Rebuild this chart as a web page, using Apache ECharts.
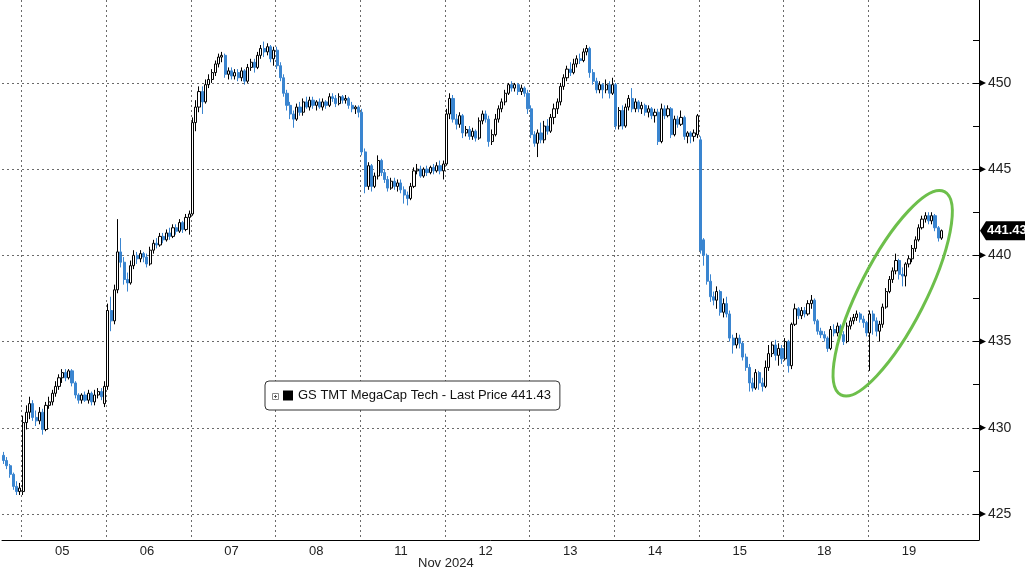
<!DOCTYPE html>
<html><head><meta charset="utf-8">
<script src="https://cdn.jsdelivr.net/npm/echarts@6/dist/echarts.min.js"></script>
<style>html,body{margin:0;padding:0;background:#fff}#c{width:1025px;height:572px}</style>
</head><body><div id="c"></div><script>
// ---- data: 15-minute bars, each [open, close, low, high] ----
const dayLabels = ['04','05','06','07','08','11','12','13','14','15','18','19'];
const nov04 = [[428.4,428.1,427.9,428.6],[428.1,427.8,427.6,428.3],[427.8,427.3,427.1,427.9],[427.3,426.6,426.4,427.4],[426.6,426.3,426.1,426.9],[426.3,426.5,426.1,426.8]];
const nov05 = [[426.3,430.3,426.1,430.7],[430.3,430.9,429.9,431.3],[430.9,431.4,430.5,431.8],[431.4,430.6,430.4,431.6],[430.6,430.4,430.1,431.0],[430.4,430.9,430.2,431.2],[430.9,429.9,429.6,431.1],[429.9,431.3,429.8,431.5],[431.3,431.5,431.1,431.8],[431.5,432.0,431.3,432.2],[432.0,432.4,431.8,432.7],[432.4,432.9,432.2,433.1],[432.9,433.2,432.6,433.4],[433.2,432.9,432.7,433.4],[432.9,433.3,432.8,433.4],[433.3,432.6,432.4,433.4],[432.6,431.9,431.7,432.7],[431.9,431.6,431.4,432.0],[431.6,431.9,431.4,432.0],[431.9,431.6,431.5,432.1],[431.6,432.0,431.4,432.2],[432.0,431.5,431.3,432.1],[431.5,431.9,431.3,432.2],[431.9,432.1,431.7,432.3],[432.1,431.8,431.6,432.3],[431.4,432.4,431.2,432.7]];
const nov06 = [[432.4,436.8,432.2,437.2],[436.8,436.2,435.6,437.6],[436.2,438.0,436.0,438.3],[438.0,440.2,437.8,442.1],[440.2,439.6,439.3,441.0],[439.6,438.6,438.3,439.9],[438.6,438.4,437.9,439.0],[438.4,439.4,438.3,439.7],[439.4,440.0,439.2,440.3],[440.0,439.8,439.5,440.2],[439.8,440.1,439.6,440.3],[440.1,439.9,439.6,440.2],[439.9,439.5,439.3,440.1],[439.5,440.3,439.4,440.5],[440.3,440.7,440.1,440.9],[440.7,440.6,440.4,441.0],[440.6,441.1,440.5,441.3],[441.1,440.9,440.7,441.3],[440.9,441.3,440.8,441.5],[441.3,441.1,440.9,441.6],[441.1,441.6,441.0,441.8],[441.6,441.4,441.2,441.8],[441.4,441.9,441.3,442.1],[441.9,441.5,441.3,442.0],[441.5,442.2,441.4,442.4],[442.2,442.4,441.2,442.6]];
const nov07 = [[442.4,447.7,442.3,448.0],[447.7,448.6,447.2,449.0],[448.6,449.5,448.3,449.8],[449.5,448.9,448.2,449.8],[448.9,449.9,448.8,450.2],[449.9,450.2,449.7,450.5],[450.2,450.6,450.0,450.8],[450.6,451.1,450.4,451.3],[451.1,451.5,450.9,451.7],[451.5,451.6,451.2,451.8],[451.6,450.5,450.3,451.7],[450.5,450.7,450.2,450.9],[450.7,450.4,450.2,450.9],[450.4,450.6,450.2,450.8],[450.6,450.3,450.1,450.8],[450.3,450.7,450.1,450.9],[450.7,450.1,449.9,450.8],[450.1,450.9,450.0,451.1],[450.9,451.2,450.7,451.4],[451.2,450.9,450.6,451.4],[450.9,451.6,450.8,451.8],[451.6,452.0,451.4,452.2],[452.0,451.8,451.5,452.4],[451.8,452.1,451.6,452.3],[452.1,451.4,451.2,452.2],[451.4,451.9,451.0,452.1]];
const nov08 = [[451.9,451.0,450.8,452.1],[451.0,450.3,450.1,451.2],[450.3,449.4,449.2,450.5],[449.4,448.7,448.4,449.6],[448.7,448.2,447.9,448.9],[448.2,447.9,447.4,448.4],[447.9,448.6,447.8,448.8],[448.6,448.3,448.1,448.9],[448.3,448.9,448.1,449.1],[448.9,448.6,448.5,449.2],[448.6,449.0,448.4,449.2],[449.0,448.7,448.5,449.2],[448.7,448.9,448.4,449.0],[448.9,448.6,448.5,449.1],[448.6,448.9,448.4,449.1],[448.9,448.7,448.5,449.0],[448.7,449.2,448.6,449.4],[449.2,449.1,448.9,449.4],[449.1,448.8,448.6,449.3],[448.8,449.2,448.7,449.4],[449.2,449.0,448.8,449.3],[449.0,449.1,448.8,449.3],[449.1,448.7,448.5,449.2],[448.7,448.5,448.3,448.9],[448.5,448.6,448.2,448.7],[448.6,448.3,448.0,448.7]];
const nov11 = [[448.3,446.0,445.8,448.5],[446.0,444.0,443.6,446.2],[444.0,445.2,443.8,445.4],[445.2,444.0,443.7,445.3],[444.0,444.6,443.9,444.8],[444.6,445.5,444.4,445.8],[445.5,444.8,444.6,445.6],[444.8,444.4,444.2,445.0],[444.4,443.9,443.7,444.6],[443.9,444.3,443.8,444.5],[444.3,444.0,443.8,444.5],[444.0,444.2,443.7,444.4],[444.2,443.8,443.6,444.4],[443.8,443.5,443.0,444.0],[443.5,443.3,442.9,443.7],[443.3,444.0,443.2,444.2],[444.0,444.9,443.9,445.1],[444.9,445.0,444.7,445.3],[445.0,444.6,444.5,445.2],[444.6,445.0,444.5,445.1],[445.0,444.8,444.6,445.2],[444.8,445.1,444.7,445.2],[445.1,444.9,444.7,445.3],[444.9,445.2,444.8,445.4],[445.2,444.9,444.7,445.5],[444.9,445.3,444.4,445.5]];
const nov12 = [[445.3,448.2,445.2,448.5],[448.2,449.1,447.9,449.4],[449.1,447.9,447.7,449.3],[447.9,447.6,447.3,448.2],[447.6,448.1,447.4,448.3],[448.1,447.1,446.8,448.2],[447.1,447.3,446.9,447.5],[447.3,446.9,446.7,447.5],[446.9,447.2,446.7,447.4],[447.2,446.8,446.6,447.3],[446.8,447.8,446.7,448.0],[447.8,448.2,447.6,448.4],[448.2,447.9,447.7,448.4],[447.9,446.6,446.3,448.1],[446.6,447.0,446.4,447.3],[447.0,447.9,446.9,448.2],[447.9,448.5,447.7,448.7],[448.5,448.9,448.3,449.1],[448.9,449.4,448.7,449.6],[449.4,449.9,449.3,450.0],[449.9,449.7,449.5,450.1],[449.7,449.9,449.5,450.0],[449.9,449.5,449.3,450.0],[449.5,449.7,449.3,449.9],[449.7,449.4,449.2,449.8],[449.4,448.5,448.2,449.6]];
const nov13 = [[448.5,447.0,446.8,448.7],[447.0,446.5,446.3,447.2],[446.5,447.1,445.7,447.3],[447.1,446.7,446.5,447.7],[446.7,447.5,446.5,447.8],[447.5,447.2,447.0,447.9],[447.2,448.0,447.1,448.2],[448.0,448.5,447.6,448.8],[448.5,448.9,448.2,449.1],[448.9,449.8,448.7,450.0],[449.8,450.3,449.6,450.5],[450.3,450.8,450.1,451.0],[450.8,450.6,450.4,451.2],[450.6,451.1,450.5,451.4],[451.1,451.4,450.9,451.6],[451.4,451.3,451.1,451.7],[451.3,451.8,451.2,452.0],[451.8,452.0,451.6,452.2],[452.0,450.6,450.3,452.1],[450.6,450.1,449.9,450.8],[450.1,449.6,449.4,450.3],[449.6,449.9,449.4,450.1],[449.9,449.6,449.1,450.0],[449.6,449.9,449.4,450.2],[449.9,449.4,449.1,450.1],[449.4,449.9,449.3,450.3]];
const nov14 = [[449.9,447.5,447.3,450.0],[447.5,448.4,447.3,448.6],[448.4,447.5,447.3,448.7],[447.5,448.6,447.4,448.8],[448.6,449.1,448.4,449.3],[449.1,448.5,448.3,449.7],[448.5,448.9,448.3,449.1],[448.9,448.5,448.3,449.0],[448.5,448.7,448.2,448.9],[448.7,448.3,448.1,448.8],[448.3,448.5,448.0,448.7],[448.5,448.1,447.9,448.6],[448.1,448.3,447.7,448.5],[448.3,446.6,446.4,448.5],[446.6,448.5,446.5,448.8],[448.5,448.1,447.9,448.7],[448.1,448.5,448.0,448.7],[448.5,447.0,446.8,448.6],[447.0,447.9,446.9,448.1],[447.9,447.6,447.4,448.1],[447.6,448.0,447.5,448.4],[448.0,446.9,446.7,448.1],[446.9,447.1,446.5,447.2],[447.1,446.9,446.5,447.2],[446.9,447.1,446.6,447.3],[447.0,448.1,446.8,448.2]];
const nov15 = [[446.7,440.3,440.1,446.9],[440.9,440.0,439.4,441.0],[440.0,438.5,438.3,440.1],[438.5,437.6,437.3,438.9],[437.6,437.4,437.1,437.9],[437.4,437.9,436.9,438.2],[437.9,436.7,436.5,438.0],[436.7,437.2,436.4,437.5],[437.2,436.6,436.4,437.6],[436.6,435.2,435.0,436.8],[435.2,434.8,434.3,435.4],[434.8,435.2,434.6,435.5],[435.2,434.9,434.6,435.4],[434.9,434.1,433.9,435.0],[434.1,433.5,433.3,434.3],[433.5,432.6,432.1,433.7],[432.6,432.3,432.1,432.9],[432.3,433.2,432.2,433.4],[433.2,432.6,432.2,433.3],[432.6,432.4,432.1,432.9],[432.4,433.5,432.3,433.9],[433.5,434.3,433.3,434.8],[434.3,434.8,434.1,435.0],[434.8,434.2,433.9,435.1],[434.2,434.6,433.6,434.9],[434.6,434.0,433.7,434.8]];
const nov18 = [[434.0,435.0,433.9,435.2],[435.0,433.6,433.2,435.1],[433.6,436.0,433.4,436.1],[436.0,436.9,435.9,437.2],[436.9,436.5,436.3,437.0],[436.5,436.8,436.3,437.0],[436.8,436.6,436.4,437.0],[436.6,437.2,436.5,437.4],[437.2,437.4,436.9,437.7],[437.4,436.2,436.0,437.5],[436.2,435.6,435.4,436.3],[435.6,435.4,435.2,435.8],[435.4,435.2,435.0,435.6],[435.2,434.6,434.4,435.3],[434.6,435.7,434.5,435.9],[435.7,435.5,435.3,436.0],[435.5,435.9,435.3,436.1],[435.9,435.4,435.2,436.0],[435.4,435.0,434.8,435.6],[435.0,435.9,434.9,436.1],[435.9,436.2,435.7,436.4],[436.2,436.4,436.0,436.6],[436.4,436.6,436.2,436.8],[436.6,436.3,436.1,436.7],[436.3,436.1,435.8,436.5],[436.1,435.5,435.3,436.2]];
const nov19 = [[435.5,436.6,433.3,436.8],[436.6,436.2,435.4,436.8],[436.2,435.6,435.3,436.4],[435.6,436.0,435.0,436.2],[436.0,437.0,435.8,437.2],[437.0,437.9,436.9,438.1],[437.9,438.6,437.8,438.8],[438.6,439.1,438.4,439.3],[439.1,439.7,438.9,440.1],[439.7,438.9,438.6,439.8],[438.9,438.8,438.2,439.3],[438.8,439.5,438.2,439.6],[439.5,439.8,439.3,440.0],[439.8,440.4,439.6,440.6],[440.4,440.9,440.2,441.1],[440.9,441.6,440.8,441.8],[441.6,442.1,441.5,442.3],[442.1,442.3,441.9,442.5],[442.3,442.0,441.8,442.5],[442.0,442.3,441.8,442.5],[442.3,441.6,441.4,442.4],[441.6,441.0,440.8,441.7],[441.0,441.43,440.9,441.5]];
const dayBars = [nov04, nov05, nov06, nov07, nov08, nov11, nov12, nov13, nov14, nov15, nov18, nov19];
const padBars = 11;
const yLabelValues = [425, 430, 435, 440, 445, 450];
const yMinorTickValues = [425, 427.5, 430, 432.5, 435, 437.5, 440, 442.5, 445, 447.5, 450, 452.5];
const yMin = 423.49, yMax = 454.81;
const lastPrice = 441.43;
const seriesName = 'GS TMT MegaCap Tech - Last Price 441.43';
const monthLabel = 'Nov 2024';

// ---- build category axis ----
const categories = [], ohlc = [], dayStartIdx = new Set(), labelIdx = new Set();
dayBars.forEach((bars, d) => {
  const s = categories.length;
  if (d > 0) { dayStartIdx.add(s); labelIdx.add(s + 12); }
  bars.forEach((b, i) => { categories.push(dayLabels[d] + ' #' + i); ohlc.push(b); });
});
const lastStart = categories.length - dayBars[dayBars.length - 1].length;
const total = categories.length + padBars;
for (let i = categories.length; i < total; i++) categories.push('pad #' + i);

const FONT = 'Liberation Sans';
const chart = echarts.init(document.getElementById('c'), null, {renderer: 'canvas'});
const dotted = {color: '#6a6a6a', type: [2, 3], width: 1};
chart.setOption({
  animation: false,
  backgroundColor: '#fff',
  textStyle: {fontFamily: FONT},
  title: {text: monthLabel, left: 418, top: 557, padding: 0,
          textStyle: {fontSize: 13, fontWeight: 'normal', color: '#222', fontFamily: FONT}},
  grid: {left: 2, right: 46, top: 0, bottom: 32},
  legend: {
    left: 265, top: 381, orient: 'horizontal', z: 2,
    backgroundColor: '#fff', borderColor: '#333', borderWidth: 1, borderRadius: 4,
    padding: [8, 9, 8, 18], itemWidth: 10, itemHeight: 10, itemGap: 5,
    textStyle: {fontSize: 13, color: '#111', fontFamily: FONT},
    data: [{name: seriesName, icon: 'rect', itemStyle: {color: '#000', borderColor: '#000', borderWidth: 0}}],
    selectedMode: false
  },
  xAxis: {
    type: 'category', data: categories, boundaryGap: true,
    axisLine: {show: true, lineStyle: {color: '#000', width: 1}},
    axisTick: {show: false},
    axisLabel: {
      interval: (i) => labelIdx.has(i), color: '#222', fontSize: 13, margin: 5, fontFamily: FONT,
      formatter: (v) => v.split(' ')[0]
    },
    splitLine: {show: true, interval: (i) => dayStartIdx.has(i), lineStyle: dotted, showMaxLine: false}
  },
  yAxis: [{
    type: 'value', position: 'right', min: yMin, max: yMax, scale: true,
    axisLine: {show: true, lineStyle: {color: '#000', width: 1}},
    axisTick: {show: false},
    axisLabel: {customValues: yLabelValues, margin: 9, color: '#222', fontSize: 14, fontFamily: FONT},
    splitLine: {show: true, lineStyle: dotted, showMinLine: false, showMaxLine: false}
  }, {
    type: 'value', position: 'right', min: yMin, max: yMax, scale: true,
    axisLine: {show: false}, axisLabel: {show: false}, splitLine: {show: false},
    axisTick: {show: true, inside: true, length: 6, customValues: yMinorTickValues, lineStyle: {color: '#000'}}
  }],
  series: [{
    name: seriesName, type: 'candlestick', data: ohlc, barWidth: '80%',
    itemStyle: {color: '#ffffff', borderColor: '#000000', color0: '#3a85d0', borderColor0: '#3a85d0', borderWidth: 1}
  }]
});

// ---- annotations positioned through the chart's own scales ----
const toPx = (cat, v) => chart.convertToPixel({xAxisIndex: 0, yAxisIndex: 0}, [cat, v]);
const gridRight = chart.getWidth() - 46;
const graphics = [];
// green ellipse around the final rally
const c = toPx(categories[lastStart + 7], 437.8);
graphics.push({type: 'ellipse', x: c[0], y: c[1], rotation: 63 * Math.PI / 180, z: 100,
  shape: {cx: 0, cy: 0, rx: 114, ry: 33}, style: {fill: 'none', stroke: '#6dbf4b', lineWidth: 3}});
// triangle markers on the major y ticks
yLabelValues.forEach(v => {
  const y = toPx(categories[0], v)[1];
  graphics.push({type: 'polygon', z: 100, shape: {points: [[gridRight, y - 3.5], [gridRight + 7, y], [gridRight, y + 3.5]]}, style: {fill: '#000'}});
});
// last price tag
const ly = toPx(categories[0], lastPrice)[1];
graphics.push({type: 'polygon', z: 100, shape: {points: [[gridRight + 1, ly], [gridRight + 7, ly - 9.5], [1030, ly - 9.5], [1030, ly + 9.5], [gridRight + 7, ly + 9.5]]}, style: {fill: '#000'}});
graphics.push({type: 'text', z: 101, x: gridRight + 8, y: ly, style: {text: lastPrice.toFixed(2), fill: '#fff', font: 'bold 13px "Liberation Sans"', verticalAlign: 'middle'}});
// small expand glyph at the legend's left
graphics.push({type: 'rect', z: 100, shape: {x: 272.5, y: 393.5, width: 6, height: 6}, style: {fill: '#fff', stroke: '#888', lineWidth: 1}});
graphics.push({type: 'line', z: 100, shape: {x1: 274, y1: 396.5, x2: 277, y2: 396.5}, style: {stroke: '#555', lineWidth: 1}});
graphics.push({type: 'line', z: 100, shape: {x1: 275.5, y1: 395, x2: 275.5, y2: 398}, style: {stroke: '#555', lineWidth: 1}});
chart.setOption({graphic: graphics});
</script></body></html>
